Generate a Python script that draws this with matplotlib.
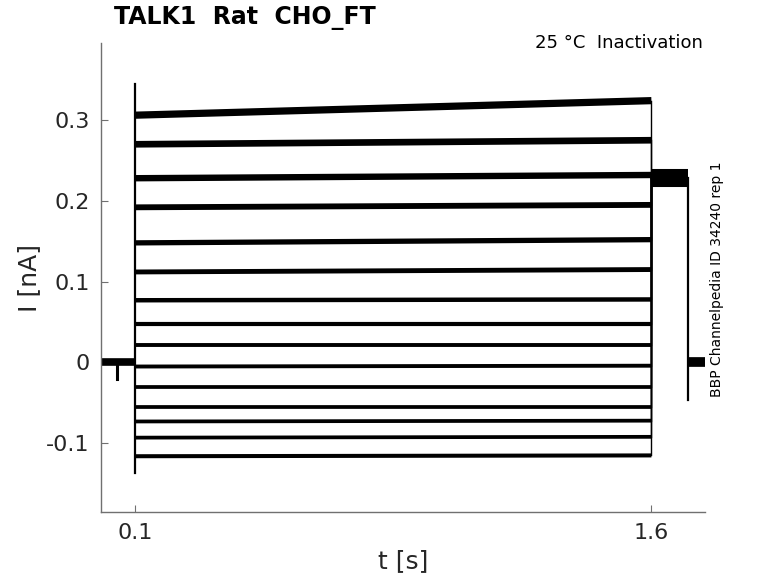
import numpy as np
import matplotlib
matplotlib.use("Agg")
import matplotlib.pyplot as plt

# step levels during the 0.1-1.6 s pulse (nA), start and end of each trace
level_start = [0.306, 0.270, 0.228, 0.192, 0.148, 0.112, 0.077, 0.047, 0.022,
               -0.005, -0.030, -0.055, -0.073, -0.093, -0.116]
level_end = [0.324, 0.275, 0.232, 0.195, 0.152, 0.115, 0.078, 0.047, 0.022,
             -0.004, -0.030, -0.055, -0.072, -0.092, -0.115]
# visible noise band of each trace (points)
band = [5.2, 4.8, 4.6, 4.2, 3.8, 3.5, 3.2, 3.0, 2.8, 2.8, 2.7, 2.7, 2.7, 2.7, 2.9]

t_pre, t_on, t_off, t_test, t_end = 0.0, 0.1, 1.6, 1.705, 1.755
test_level = 0.228
spike_hi, spike_lo = 0.345, -0.137
pre_dip_t, pre_dip = 0.047, -0.021
post_dip = -0.047

fig = plt.figure(figsize=(7.78, 5.83), dpi=100)
ax = fig.add_axes([0.1298, 0.1218, 0.776, 0.804])

# holding before the pulse
ax.plot([t_pre, t_on], [0, 0], color="black", lw=5.5, solid_capstyle="butt")
ax.plot([pre_dip_t, pre_dip_t], [0, pre_dip], color="black", lw=2.2)
# capacitive transient at pulse onset
ax.plot([t_on, t_on], [spike_lo, spike_hi], color="black", lw=1.6)

for a, b, w in zip(level_start, level_end, band):
    ax.plot([t_on, t_off], [a, b], color="black", lw=w, solid_capstyle="butt")
    ax.plot([t_off, t_off], [b, test_level], color="black", lw=1.0)

# test pulse and return to holding
ax.plot([t_off, t_test], [test_level, test_level], color="black", lw=13,
        solid_capstyle="butt")
ax.plot([t_test, t_test], [test_level, post_dip], color="black", lw=1.6)
ax.plot([t_test, t_end], [0.0, 0.0], color="black", lw=7, solid_capstyle="butt")

ax.set_xlim(0.0, t_end)
ax.set_ylim(-0.185, 0.395)
ax.set_xticks([0.1, 1.6])
ax.set_xticklabels(["0.1", "1.6"])
ax.set_yticks([-0.1, 0, 0.1, 0.2, 0.3])
ax.set_yticklabels(["-0.1", "0", "0.1", "0.2", "0.3"])

for s in ["top", "right"]:
    ax.spines[s].set_visible(False)
for s in ["left", "bottom"]:
    ax.spines[s].set_color("#707070")
    ax.spines[s].set_linewidth(1.0)
ax.tick_params(direction="in", length=5, color="#707070", labelsize=16,
               labelcolor="#262626", pad=8)

ax.set_xlabel("t [s]", fontsize=18, color="#262626", labelpad=4)
ax.set_ylabel("I [nA]", fontsize=18, color="#262626", labelpad=4)

fig.text(0.146, 0.958, "TALK1  Rat  CHO_FT", fontsize=17, fontweight="bold",
         ha="left", va="baseline")
fig.text(0.903, 0.918, "25 °C  Inactivation", fontsize=13, ha="right",
         va="baseline")
fig.text(0.921, 0.521, "BBP Channelpedia ID 34240 rep 1", fontsize=10,
         rotation=90, ha="center", va="center")

fig.savefig("out.png", dpi=100)
